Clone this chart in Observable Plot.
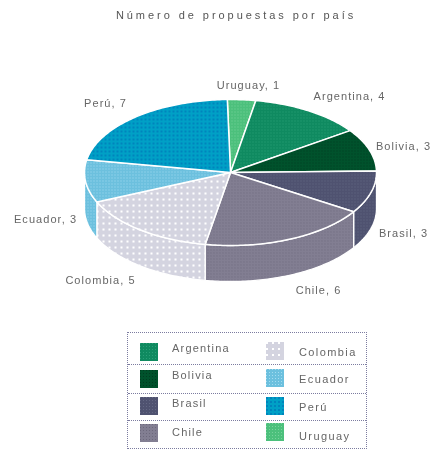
<!DOCTYPE html>
<html lang="es">
<head>
<meta charset="utf-8">
<script src="https://cdn.jsdelivr.net/npm/d3@7"></script>
<script src="https://cdn.jsdelivr.net/npm/@observablehq/plot@0.6"></script>
<style>
  html, body { margin: 0; padding: 0; background: #fff; }
  #page { position: relative; width: 433px; height: 453px; overflow: hidden; font-family: "Liberation Sans", sans-serif; color: #666; filter: blur(0.55px); }
  #title { height: 30px; line-height: 30px; text-align: center; font-size: 11px; letter-spacing: 2.95px; color: #555; margin-left: 39px; white-space: nowrap; }
  #chart svg { display: block; }
  #legend { position: absolute; left: 127px; top: 332px; width: 240px; height: 117px; box-sizing: border-box; border: 1px dotted #7c7ca0; }
  .sep { position: absolute; left: 0; right: 0; border-top: 1px dotted #7c7ca0; }
  .sw { position: absolute; width: 18px; height: 18px; }
  .lb { position: absolute; font-size: 11px; line-height: 14px; white-space: nowrap; }
</style>
</head>
<body>
<div id="page">
  <div id="title">Número de propuestas por país</div>
  <div id="chart"></div>
  <div id="legend"></div>
</div>
<script>
// Data, in drawing order clockwise from the top of the pie
const countries = ["Uruguay", "Argentina", "Bolivia", "Brasil", "Chile", "Colombia", "Ecuador", "Perú"];
const proposals = [1, 4, 3, 3, 6, 5, 3, 7];
const baseColors = ["#4cc07c", "#0f8a60", "#00522c", "#4f5270", "#827e92", "#d4d4e0", "#6cc0de", "#00a0c6"];
const dotColors  = ["#78d49c", "#2aa078", "#003c20", "#646884", "#6c687c", "#ffffff", "#a4dcf0", "#0084bc"];
const dotSteps   = [3, 3, 3, 3, 3, 6, 3, 4];
const legendLeft = ["Argentina", "Bolivia", "Brasil", "Chile"];
const legendRight = ["Colombia", "Ecuador", "Perú", "Uruguay"];

// Layout of the pie (units of pie radius)
const PX = 146, CX = 230, CY = 142, TILT = 0.5, DEPTH = 36 / PX, START = -1.25;
const labelPx = [[248, 85], [349, 96], [403, 146], [403, 233], [318, 290], [100, 280], [45, 219], [105, 103]];

const total = d3.sum(proposals);
let acc = START;
const slices = countries.map((name, i) => {
  const a0 = acc, a1 = acc + proposals[i] / total * 360;
  acc = a1;
  return {name, value: proposals[i], i, a0, a1};
});
const rim = (deg, drop = 0) => {
  const t = deg * Math.PI / 180;
  return {x: Math.sin(t), y: -TILT * Math.cos(t) + drop};
};
const arc = (a0, a1, drop = 0) => {
  const n = Math.max(2, Math.ceil(Math.abs(a1 - a0)));
  return d3.range(n + 1).map(k => rim(a0 + (a1 - a0) * k / n, drop));
};
const topShape = s => [{x: 0, y: 0}, ...arc(s.a0, s.a1), {x: 0, y: 0}];
const wallShape = s => {
  const a0 = Math.max(s.a0, 90), a1 = Math.min(s.a1, 270);
  if (a1 <= a0) return null;
  const top = arc(a0, a1), bottom = arc(a1, a0, DEPTH);
  return [...top, ...bottom, top[0]];
};
const fillOf = s => `url(#dots${s.i})`;

const walls = slices.filter(wallShape).map(s =>
  Plot.line(wallShape(s), {x: "x", y: "y", fill: fillOf(s), stroke: "#fff", strokeWidth: 1.3, curve: "linear"}));
const tops = slices.map(s =>
  Plot.line(topShape(s), {x: "x", y: "y", fill: fillOf(s), stroke: "#fff", strokeWidth: 1.5, curve: "linear", strokeLinejoin: "round"}));

const labels = slices.map((s, i) => ({
  text: `${s.name}, ${s.value}`,
  x: (labelPx[i][0] - CX) / PX,
  y: (labelPx[i][1] - 30 - CY) / PX
}));

// Dot textures used by both the pie and the legend
const patterns = () => {
  const NS = "http://www.w3.org/2000/svg";
  const defs = document.createElementNS(NS, "defs");
  slices.forEach(s => {
    const st = dotSteps[s.i];
    const p = document.createElementNS(NS, "pattern");
    p.setAttribute("id", `dots${s.i}`);
    p.setAttribute("patternUnits", "userSpaceOnUse");
    p.setAttribute("width", st);
    p.setAttribute("height", st);
    const bg = document.createElementNS(NS, "rect");
    bg.setAttribute("width", st); bg.setAttribute("height", st);
    bg.setAttribute("fill", baseColors[s.i]);
    const dot = document.createElementNS(NS, "rect");
    dot.setAttribute("width", st > 3 ? 2 : 1); dot.setAttribute("height", st > 3 ? 2 : 1);
    dot.setAttribute("fill", dotColors[s.i]);
    p.append(bg, dot);
    defs.append(p);
  });
  return defs;
};

const plot = Plot.plot({
  width: 433, height: 300, margin: 0,
  x: {domain: [-CX / PX, (433 - CX) / PX], axis: null},
  y: {domain: [-CY / PX, (300 - CY) / PX], reverse: true, axis: null},
  style: {fontFamily: "'Liberation Sans', sans-serif", background: "transparent", letterSpacing: "1.05px"},
  marks: [
    patterns,
    ...walls,
    ...tops,
    Plot.text(labels, {x: "x", y: "y", text: "text", fontSize: 11, fill: "#666"})
  ]
});
document.getElementById("chart").append(plot);

// Legend, below the chart
const legend = document.getElementById("legend");
const colorCss = name => {
  const i = countries.indexOf(name), st = dotSteps[i], d = st > 3 ? 1 : 0.7;
  return `radial-gradient(circle at ${d}px ${d}px, ${dotColors[i]} ${d}px, transparent ${d}px) 0 0 / ${st}px ${st}px, ${baseColors[i]}`;
};
[31, 60, 87].forEach(t => {
  const d = document.createElement("div");
  d.className = "sep"; d.style.top = t + "px";
  legend.append(d);
});
const place = (names, swX, swYs, txX, txYs, spacing) => names.forEach((n, k) => {
  const sw = document.createElement("div");
  sw.className = "sw";
  sw.style.left = swX + "px"; sw.style.top = swYs[k] + "px";
  sw.style.background = colorCss(n);
  const lb = document.createElement("div");
  lb.className = "lb"; lb.textContent = n;
  lb.style.left = txX + "px"; lb.style.top = txYs[k] + "px"; lb.style.letterSpacing = spacing;
  legend.append(sw, lb);
});
place(legendLeft, 12, [10, 37, 64, 91], 44, [8, 35, 63, 92], "1.2px");
place(legendRight, 138, [9, 36, 64, 90], 171, [12, 39, 67, 96], "1.4px");
</script>
</body>
</html>
